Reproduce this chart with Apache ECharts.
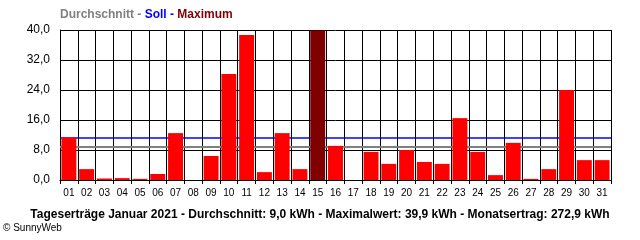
<!DOCTYPE html>
<html>
<head>
<meta charset="utf-8">
<script src="https://cdn.jsdelivr.net/npm/echarts@6/dist/echarts.min.js"></script>
<style>
html,body{margin:0;padding:0;background:#fff;}
#c{width:640px;height:240px;}
</style>
</head>
<body>
<div id="c"></div>
<script>
// ---- data ----
var days = ['01','02','03','04','05','06','07','08','09','10','11','12','13','14','15','16','17','18','19','20','21','22','23','24','25','26','27','28','29','30','31'];
var yields = [11.4,2.9,0.4,0.5,0.3,1.6,12.5,0,6.4,28.3,38.7,2.1,12.5,2.9,39.9,9.1,0,7.5,4.3,8.0,4.8,4.3,16.5,7.5,1.3,9.9,0.3,2.9,24.0,5.3,5.3];
var averageValue = 8.8;
var targetValue = 11.4;
var yTicks = [0, 8, 16, 24, 32, 40];
var legendParts = ['Durchschnitt - ', 'Soll - ', 'Maximum'];
var footerText = 'Tageserträge Januar 2021 - Durchschnitt: 9,0 kWh - Maximalwert: 39,9 kWh - Monatsertrag: 272,9 kWh';
var copyrightText = '© SunnyWeb';

// ---- chart ----
var maxVal = Math.max.apply(null, yields);
var barData = yields.map(function (v) {
  return { value: v, itemStyle: { color: v === maxVal ? '#800000' : '#ff0000' } };
});
var FONT = 'Liberation Sans';
var chart = echarts.init(document.getElementById('c'), null, { renderer: 'canvas' });
chart.setOption({
  animation: false,
  backgroundColor: '#ffffff',
  textStyle: { fontFamily: FONT },
  title: [
    {
      left: 60, top: 9,
      text: '{a|' + legendParts[0] + '}{b|' + legendParts[1] + '}{c|' + legendParts[2] + '}',
      textStyle: {
        rich: {
          a: { color: '#808080', fontSize: 12, fontWeight: 'bold', fontFamily: FONT },
          b: { color: '#0000ff', fontSize: 12, fontWeight: 'bold', fontFamily: FONT },
          c: { color: '#800000', fontSize: 12, fontWeight: 'bold', fontFamily: FONT }
        }
      },
      padding: 0
    },
    {
      left: 'center', top: 209, padding: 0,
      text: footerText,
      textStyle: { color: '#000', fontSize: 12, fontWeight: 'bold', fontFamily: FONT }
    },
    {
      left: 3, top: 223, padding: 0,
      text: copyrightText,
      textStyle: { color: '#000', fontSize: 10, fontWeight: 'normal', fontFamily: FONT }
    }
  ],
  grid: { left: 60, right: 29, top: 30, bottom: 60, containLabel: false },
  xAxis: {
    type: 'category',
    data: days,
    boundaryGap: true,
    axisLine: { show: true, lineStyle: { color: '#000', width: 1 } },
    axisTick: { show: true, length: 4, interval: 0, lineStyle: { color: '#000' } },
    axisLabel: { interval: 0, color: '#000', fontSize: 10, margin: 8, fontFamily: FONT },
    splitLine: { show: true, interval: 0, lineStyle: { color: '#000', width: 1 } }
  },
  yAxis: {
    type: 'value',
    min: yTicks[0], max: yTicks[yTicks.length - 1], interval: yTicks[1] - yTicks[0],
    axisLine: { show: true, lineStyle: { color: '#000', width: 1 } },
    axisTick: { show: false },
    axisLabel: {
      color: '#000', fontSize: 12, margin: 10, fontFamily: FONT,
      formatter: function (v) { return v.toFixed(1).replace('.', ','); }
    },
    splitLine: { show: true, lineStyle: { color: '#000', width: 1 } }
  },
  series: [
    {
      type: 'line',
      data: [],
      z: 1,
      silent: true,
      markLine: {
        z: 1,
        symbol: ['none', 'none'],
        silent: true,
        label: { show: false },
        animation: false,
        data: [
          { yAxis: averageValue, lineStyle: { color: '#808080', width: 2, type: 'solid' } },
          { yAxis: targetValue, lineStyle: { color: '#0000ff', width: 1.5, type: 'solid' } }
        ]
      }
    },
    {
      type: 'bar',
      data: barData,
      z: 3,
      barCategoryGap: '16%'
    }
  ]
});
</script>
</body>
</html>
